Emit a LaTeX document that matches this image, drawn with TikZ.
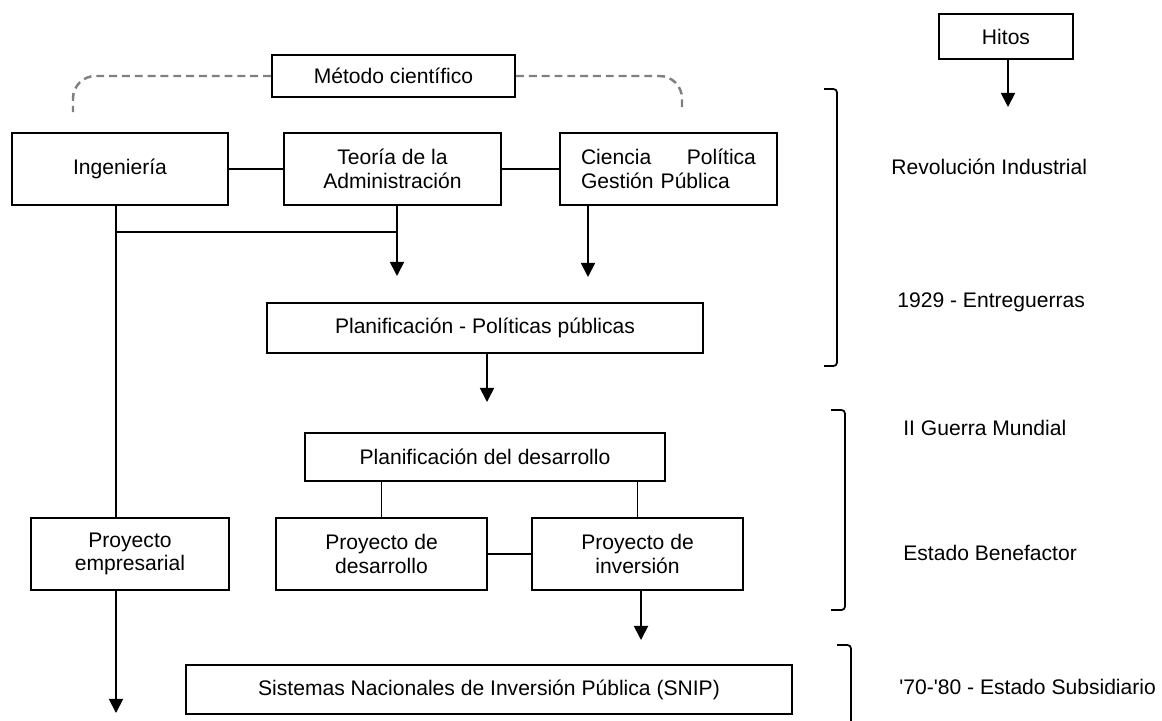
\documentclass[tikz,border=0pt]{standalone}
\usepackage{fontspec}
\setmainfont{Liberation Sans}
\usetikzlibrary{arrows.meta}

\begin{document}
\begin{tikzpicture}[x=0.02cm,y=-0.02cm]
	\tikzstyle{caja}=[draw=black,line width=1.2pt,inner sep=0pt,align=center,font=\fontsize{12}{13.5}\selectfont]
	\tikzstyle{hito}=[anchor=west,inner sep=0pt,font=\fontsize{12}{13.5}\selectfont]
	\tikzstyle{linea}=[line width=1pt]
	\tikzstyle{flecha}=[line width=1pt,-{Triangle[width=8pt,length=8pt]}]
	\tikzstyle{guiones}=[gray,line width=1.4pt,dash pattern=on 4.5pt off 2.8pt,rounded corners=0.45cm]
	\useasboundingbox (0,0) rectangle (1162,720);
	\node[caja,minimum width=4.86cm,minimum height=0.84cm](met) at (393.5,76) {Método científico};
	\node[caja,minimum width=4.32cm,minimum height=1.44cm](ing) at (120,169) {Ingeniería};
	\node[caja,minimum width=4.34cm,minimum height=1.44cm](teo) at (392.5,169) {Teoría de la\\Administración};
	\node[caja,minimum width=4.34cm,minimum height=1.44cm,text width=3.5cm,align=left](cie) at (668.5,169) {Ciencia\hfill Política\\Gestión Pública};
	\node[caja,minimum width=8.72cm,minimum height=1cm](pol) at (485,328) {Planificación - Políticas públicas};
	\node[caja,minimum width=7.2cm,minimum height=0.96cm](des) at (485,457) {Planificación del desarrollo};
	\node[caja,minimum width=3.96cm,minimum height=1.44cm](emp) at (130,554) {Proyecto\\empresarial};
	\node[caja,minimum width=4.22cm,minimum height=1.44cm](pdes) at (381.5,554) {Proyecto de\\desarrollo};
	\node[caja,minimum width=4.22cm,minimum height=1.44cm](pinv) at (637.5,554) {Proyecto de\\inversión};
	\node[caja,minimum width=12.12cm,minimum height=0.98cm](snip) at (489,689.5) {Sistemas Nacionales de Inversión Pública (SNIP)};
	\node[caja,minimum width=2.68cm,minimum height=0.9cm](hitos) at (1006,36.5) {Hitos};
	\node[hito](h1) at (891,167) {Revolución Industrial};
	\node[hito](h2) at (897,302) {1929 - Entreguerras};
	\node[hito](h3) at (903,428) {II Guerra Mundial};
	\node[hito](h4) at (903,553) {Estado Benefactor};
	\node[hito](h5) at (899,687) {\textquotesingle70-\textquotesingle80 - Estado Subsidiario};
	\coordinate (j1) at (116,232);
	\coordinate (j2) at (397,232);
	\coordinate (f1) at (397,276);
	\coordinate (f2) at (588,277);
	\coordinate (f3) at (487,402);
	\coordinate (f4) at (641,640);
	\coordinate (f5) at (116,713);
	\coordinate (f6) at (1008,107);
	\coordinate (d1) at (73,112);
	\coordinate (d2) at (682,112);
	\draw[guiones](met.west) -| (d1);
	\draw[guiones](met.east) -| (d2);
	\draw[linea](ing) -- (teo);
	\draw[linea](teo) -- (cie);
	\draw[linea](ing.south -| j1) -- (emp.north -| j1);
	\draw[linea](j1) -- (j2);
	\draw[flecha](teo.south -| j2) -- (f1);
	\draw[flecha](cie.south -| f2) -- (f2);
	\draw[flecha](pol.south -| f3) -- (f3);
	\draw[linea](des.south -| pdes.north) -- (pdes.north);
	\draw[linea](des.south -| pinv.north) -- (pinv.north);
	\draw[linea](pdes) -- (pinv);
	\draw[flecha](pinv.south -| f4) -- (f4);
	\draw[flecha](emp.south -| f5) -- (f5);
	\draw[flecha](hitos.south -| f6) -- (f6);
	\draw[linea,rounded corners=2pt](824,89) -- (837,89) -- (837,366) -- (824,366);
	\draw[linea,rounded corners=2pt](831,410) -- (845,410) -- (845,610) -- (831,610);
	\draw[linea,rounded corners=2pt](837,645) -- (851,645) -- (851,725);
\end{tikzpicture}
\end{document}
